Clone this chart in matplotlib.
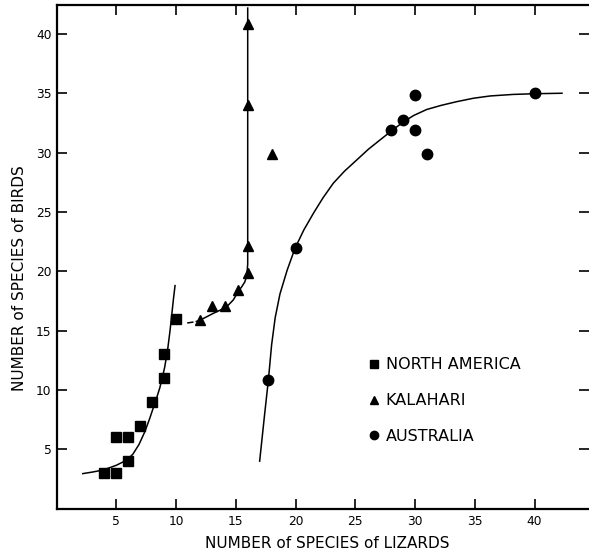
import matplotlib
matplotlib.use("Agg")
import matplotlib.pyplot as plt

# point data (lizard species, bird species)
na_x = [4, 5, 5, 6, 6, 7, 8, 9, 9, 10]
na_y = [3, 3, 6, 6, 4, 7, 9, 11, 13, 16]

kal_x = [12, 13, 14.1, 15.2, 16, 16, 16, 16, 18]
kal_y = [15.9, 17.1, 17.1, 18.4, 19.9, 22.1, 34, 40.9, 29.9]

aus_x = [17.7, 20, 28, 29, 30, 30, 31, 40]
aus_y = [10.85, 22, 31.9, 32.8, 34.9, 31.9, 29.9, 35]

# hand drawn fitted curves
na_curve_x = [2.2, 3.0, 3.9, 5.0, 5.9, 6.4, 6.9, 7.4, 7.8, 8.1, 8.4, 8.65, 9.05, 9.3, 9.5, 9.65, 9.8, 9.92]
na_curve_y = [2.95, 3.08, 3.25, 3.65, 4.1, 4.6, 5.4, 6.5, 7.6, 8.5, 9.4, 10.2, 11.9, 13.4, 15.0, 16.4, 17.8, 18.8]

kal_dash_x = [11.0, 11.4]
kal_dash_y = [15.66, 15.72]
kal_curve_x = [11.7, 12.0, 13.1, 14.2, 14.8, 15.2, 15.5, 15.75, 15.92, 16.0, 16.0]
kal_curve_y = [15.78, 15.88, 16.45, 16.97, 17.6, 18.3, 18.7, 19.1, 19.6, 20.6, 42.2]

aus_curve_x = [17.0, 17.4, 17.73, 18.0, 18.3, 18.7, 19.3, 19.96, 20.7, 21.5, 22.3, 23.16, 24.1,
               25.12, 26.1, 27.07, 28.05, 29.02, 29.9, 30.98, 32.2, 33.49, 34.9, 36.28,
               38.2, 40.04, 42.3]
aus_curve_y = [4.0, 7.8, 10.84, 13.8, 16.1, 18.1, 20.1, 21.95, 23.5, 24.9, 26.2, 27.43, 28.45,
               29.39, 30.3, 31.08, 31.86, 32.6, 33.15, 33.65, 34.0, 34.31, 34.6, 34.79,
               34.92, 34.98, 35.02]

ticks = [5, 10, 15, 20, 25, 30, 35, 40]
labels = ["NORTH AMERICA", "KALAHARI", "AUSTRALIA"]

plt.rcParams['font.family'] = ['DejaVu Sans']

fig = plt.figure(figsize=(5.89, 5.56), dpi=100)
ax = fig.add_axes([56.5 / 589, 47.4 / 556, 532.5 / 589, 503.6 / 556])

# curves
ax.plot(na_curve_x, na_curve_y, color='black', lw=1.1)
ax.plot(kal_dash_x, kal_dash_y, color='black', lw=1.1)
ax.plot(kal_curve_x, kal_curve_y, color='black', lw=1.1)
ax.plot(aus_curve_x, aus_curve_y, color='black', lw=1.1)

# points
h1, = ax.plot(na_x, na_y, 's', color='black', ms=7.5, ls='none', label=labels[0])
h2, = ax.plot(kal_x, kal_y, '^', color='black', ms=7.5, ls='none', label=labels[1])
h3, = ax.plot(aus_x, aus_y, 'o', color='black', ms=7.5, ls='none', label=labels[2])

ax.set_xlim(0, 44.56)
ax.set_ylim(0, 42.46)
ax.set_xticks(ticks)
ax.set_yticks(ticks)
ax.tick_params(direction='in', length=7, width=1.2, top=True, right=True,
               labelsize=8.8, color='black')
ax.tick_params(axis='y', pad=3.5)
ax.tick_params(axis='x', pad=4.5)
ax.spines['right'].set_visible(False)
for s in ['left', 'bottom', 'top']:
    ax.spines[s].set_linewidth(1.6)

leg = ax.legend(handles=[h1, h2, h3], loc='upper left', bbox_to_anchor=(0.575, 0.313),
                frameon=False, fontsize=11.5, handlelength=0.6, handletextpad=0.45,
                labelspacing=1.3, markerscale=0.8, borderaxespad=0)

fig.text(327 / 589, 1 - 543 / 556, "NUMBER of SPECIES of LIZARDS", ha='center', va='center',
         fontsize=11)
fig.text(20 / 589, 1 - 278 / 556, "NUMBER of SPECIES of BIRDS", ha='center', va='center',
         rotation=90, fontsize=11)

fig.savefig("out.png", dpi=100)
